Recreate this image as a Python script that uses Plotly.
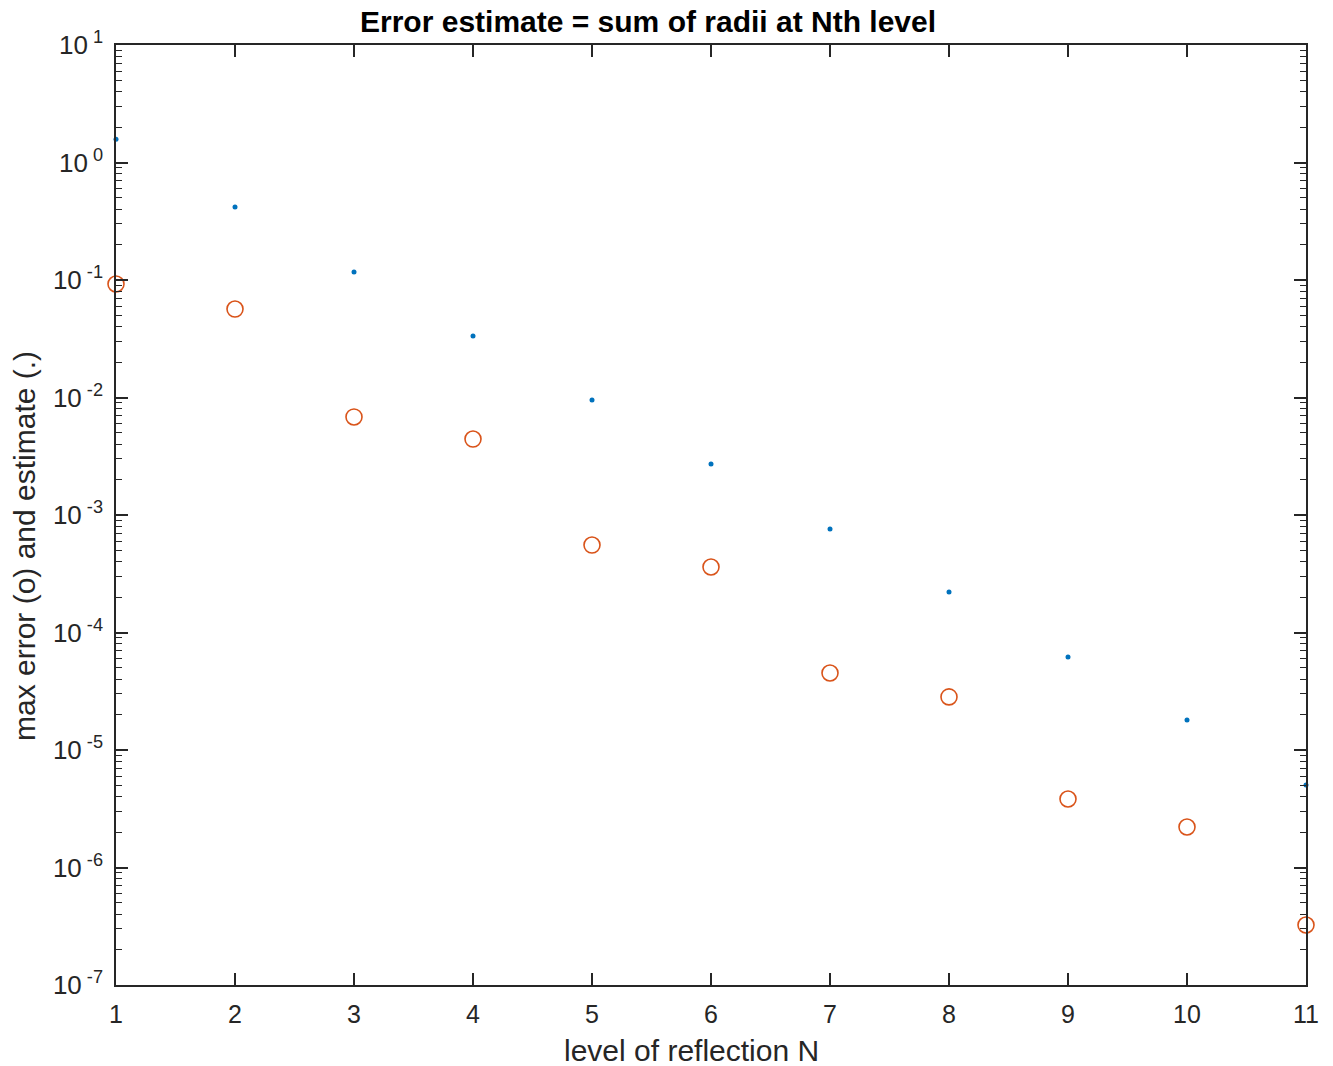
import plotly.graph_objects as go

N = list(range(1, 12))
estimate = [1.58, 0.418, 0.117, 0.0334, 0.00952, 0.00272, 7.6e-4, 2.21e-4, 6.18e-5, 1.80e-5, 5.04e-6]
max_error = [0.0925, 0.0566, 0.00683, 0.00443, 5.55e-4, 3.61e-4, 4.52e-5, 2.83e-5, 3.83e-6, 2.21e-6, 3.24e-7]

decades = list(range(-7, 2))
ytick_vals = [10.0 ** d for d in decades]
ytick_text = [f"10<sup> {d}</sup>" for d in decades]
minor_vals = [m * 10.0 ** d for d in range(-7, 1) for m in range(2, 10)]

AX = "#262626"
FONT = "Liberation Sans, Arial, Helvetica, sans-serif"

fig = go.Figure()
fig.add_trace(go.Scatter(x=N, y=estimate, mode="markers",
                         marker=dict(symbol="circle", size=5, color="#0072BD"),
                         cliponaxis=False, showlegend=False))
fig.add_trace(go.Scatter(x=N, y=max_error, mode="markers",
                         marker=dict(symbol="circle-open", size=16, color="#D95319",
                                     line=dict(width=1.6, color="#D95319")),
                         cliponaxis=False, showlegend=False))

fig.update_layout(
    width=1333, height=1066,
    margin=dict(l=116, r=27, t=45, b=81),
    paper_bgcolor="white", plot_bgcolor="white",
    font=dict(family=FONT, color=AX, size=25),
)
fig.update_xaxes(range=[1, 11], tickvals=N, ticks="inside", ticklen=12, tickwidth=1.5,
                 tickcolor=AX, showline=True, linecolor=AX, linewidth=1.5, mirror="ticks",
                 showgrid=False, zeroline=False, tickfont=dict(size=25, color=AX),
                 ticklabelstandoff=6)
fig.update_yaxes(type="log", range=[-7, 1], tickvals=ytick_vals, ticktext=ytick_text,
                 ticks="inside", ticklen=12, tickwidth=1.5, tickcolor=AX,
                 showline=True, linecolor=AX, linewidth=1.5, mirror="ticks",
                 showgrid=False, zeroline=False, tickfont=dict(size=26, color=AX),
                 ticklabelstandoff=6,
                 minor=dict(tickvals=minor_vals, ticks="inside", ticklen=6, tickwidth=1.2,
                            tickcolor=AX, showgrid=False))

fig.add_annotation(text="<b>Error estimate = sum of radii at Nth level</b>", x=0.447, y=1,
                   xref="paper", yref="paper", yshift=5, yanchor="bottom", xanchor="center",
                   showarrow=False, font=dict(size=30, color="black", family=FONT))
fig.add_annotation(text="level of reflection N", x=0.484, y=0, xref="paper", yref="paper",
                   yshift=-47, yanchor="top", xanchor="center", showarrow=False,
                   font=dict(size=30, color=AX, family=FONT))
fig.add_annotation(text="max error (o) and estimate (.)", x=0, y=0.467, xref="paper", yref="paper",
                   xshift=-92, xanchor="center", yanchor="middle", textangle=-90, showarrow=False,
                   font=dict(size=30, color=AX, family=FONT))

fig.write_html("out.html")
